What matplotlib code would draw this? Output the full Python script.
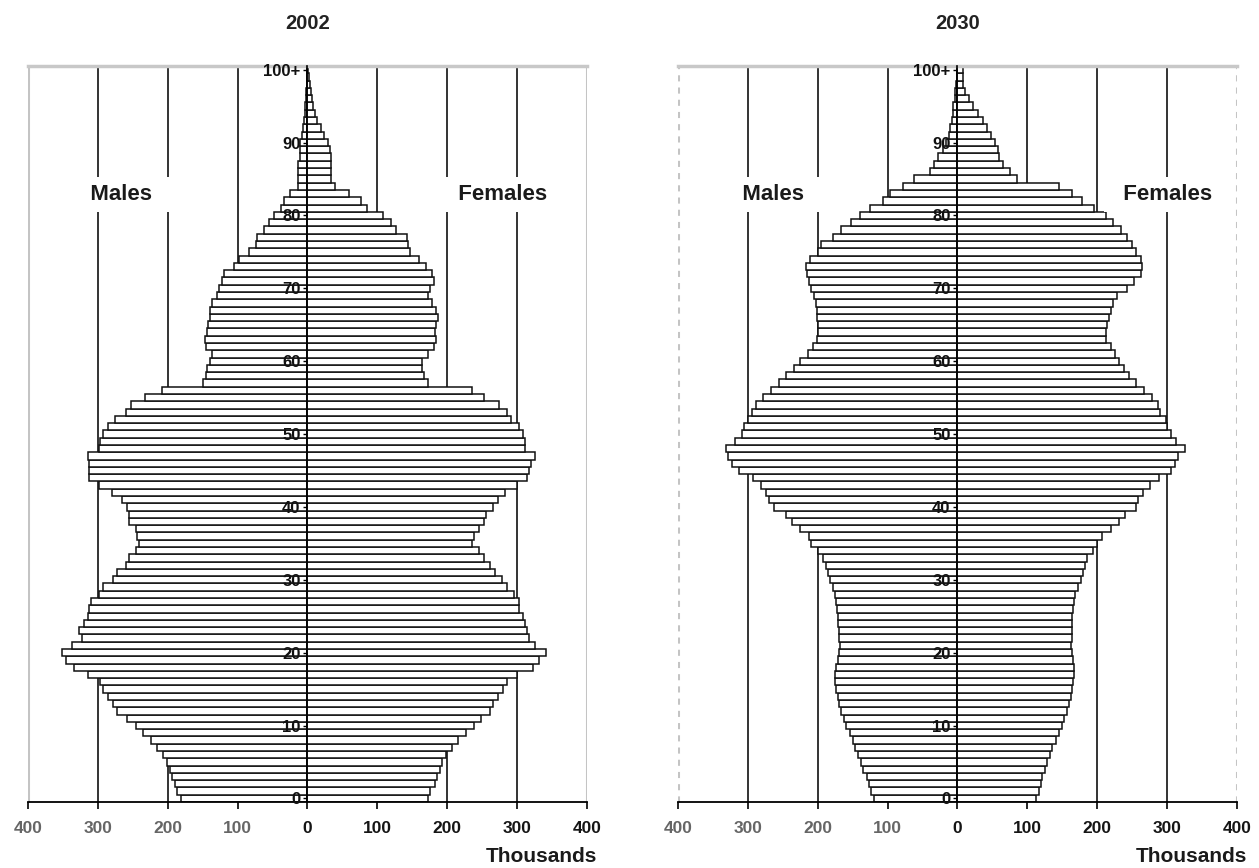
import matplotlib.pyplot as plt

# age groups 0..100+ (one bar per single year of age)
ages = list(range(101))
age_ticks = [0, 10, 20, 30, 40, 50, 60, 70, 80, 90, 100]
age_tick_labels = ['0', '10', '20', '30', '40', '50', '60', '70', '80', '90', '100+']
x_ticks = [-400, -300, -200, -100, 0, 100, 200, 300, 400]
x_tick_labels = ['400', '300', '200', '100', '0', '100', '200', '300', '400']

# thousands of people
males_2002 = [181, 186, 190, 194, 197, 201, 207, 215, 224, 236,
              246, 258, 272, 278, 285, 292, 297, 314, 334, 346,
              351, 337, 323, 327, 320, 314, 312, 310, 299, 293,
              278, 272, 259, 255, 245, 241, 244, 246, 255, 255,
              258, 266, 279, 299, 312, 313, 313, 314, 299, 297,
              293, 286, 275, 259, 252, 232, 208, 150, 145, 144,
              140, 136, 145, 147, 144, 142, 140, 139, 136, 130,
              126, 122, 119, 105, 98, 83, 74, 72, 62, 55,
              48, 38, 34, 25, 13, 13, 13, 13, 11, 11,
              10, 8, 6, 5, 4, 3, 2, 1.5, 1, 0.5, 0.5]
females_2002 = [172, 176, 183, 185, 189, 193, 198, 207, 215, 227,
                238, 249, 261, 266, 272, 280, 286, 300, 323, 331,
                342, 326, 317, 314, 312, 308, 303, 303, 296, 285,
                278, 269, 261, 253, 246, 235, 238, 246, 252, 255,
                266, 272, 283, 300, 314, 317, 320, 325, 312, 312,
                309, 303, 292, 285, 274, 253, 235, 172, 167, 164,
                164, 173, 181, 184, 183, 184, 187, 184, 178, 173,
                176, 181, 178, 170, 160, 147, 144, 142, 127, 119,
                108, 85, 76, 59, 39, 34, 34, 34, 34, 32,
                30, 24, 20, 14, 11, 8, 6, 5, 3, 2, 1]
males_2030 = [120, 124, 127, 130, 135, 138, 142, 146, 150, 154,
              159, 162, 166, 170, 171, 174, 175, 175, 174, 171,
              170, 168, 169, 170, 171, 171, 172, 174, 175, 178,
              182, 185, 188, 192, 199, 209, 213, 225, 237, 245,
              263, 270, 274, 281, 292, 312, 323, 328, 331, 319,
              309, 306, 300, 294, 289, 278, 267, 256, 245, 234,
              225, 214, 207, 201, 200, 200, 201, 201, 203, 205,
              209, 213, 216, 217, 211, 200, 195, 178, 166, 153,
              139, 125, 106, 96, 78, 62, 39, 33, 28, 21,
              17, 12, 10, 8, 7, 6, 4, 3, 2, 1, 1]
females_2030 = [113, 116, 119, 121, 125, 128, 132, 136, 141, 145,
                149, 153, 157, 160, 162, 164, 166, 167, 167, 166,
                164, 163, 164, 164, 164, 164, 165, 167, 168, 173,
                177, 180, 183, 186, 194, 200, 207, 220, 231, 240,
                255, 259, 266, 275, 289, 305, 311, 316, 326, 313,
                305, 300, 298, 290, 287, 278, 267, 256, 246, 238,
                231, 225, 220, 213, 213, 214, 217, 220, 223, 228,
                242, 253, 263, 264, 263, 256, 250, 242, 234, 223,
                213, 196, 178, 164, 146, 85, 75, 65, 60, 58,
                53, 48, 42, 36, 29, 22, 16, 11, 8, 8, 8]

plt.rcParams['font.family'] = ['Liberation Sans', 'DejaVu Sans']

fig = plt.figure(figsize=(12.59, 8.68), dpi=100)
ax_left = fig.add_axes([0.0222, 0.0760, 0.4440, 0.8479])
ax_right = fig.add_axes([0.5385, 0.0760, 0.4440, 0.8479])


def draw_pyramid(ax, year, males, females, males_x, females_x, frame_ls):
    ax.barh(ages, [-m for m in males], height=1.0, color='white',
            edgecolor='#111111', linewidth=1.1, zorder=1)
    ax.barh(ages, females, height=1.0, color='white',
            edgecolor='#111111', linewidth=1.1, zorder=1)

    ax.set_xlim(-400, 400)
    ax.set_ylim(-0.5, 100.5)

    # vertical gridlines, outer ones light grey
    for x in x_ticks:
        if abs(x) == 400:
            ax.axvline(x, color='#c4c4c4', lw=2.2, ls=frame_ls, zorder=0)
        elif x != 0:
            ax.axvline(x, color='#333333', lw=1.4, zorder=0)

    ax.spines['right'].set_visible(False)
    ax.spines['top'].set_color('#c8c8c8')
    ax.spines['top'].set_linewidth(2.5)
    ax.spines['bottom'].set_color('black')
    ax.spines['bottom'].set_linewidth(1.3)
    ax.spines['left'].set_position(('data', 0))
    ax.spines['left'].set_color('black')
    ax.spines['left'].set_linewidth(1.2)
    ax.spines['left'].set_zorder(3)
    ax.yaxis.set_zorder(3)

    ax.set_xticks(x_ticks)
    ax.set_xticklabels(x_tick_labels, fontsize=12.5, fontweight='bold')
    for lab, x in zip(ax.get_xticklabels(), x_ticks):
        lab.set_color('#666666' if x < 0 else '#151515')
    ax.tick_params(axis='x', direction='out', length=5, width=1.2, pad=9)

    ax.set_yticks(age_ticks)
    ax.set_yticklabels(age_tick_labels, fontsize=12, fontweight='bold', color='#111111')
    ax.tick_params(axis='y', direction='out', length=3, width=1, pad=2)

    ax.set_title(year, fontsize=14.5, fontweight='bold', pad=27, color='#222222')

    ax.text(males_x, 82.9, '   Males   ', ha='center', va='center', fontsize=16,
            fontweight='bold', color='#1a1a1a', zorder=4,
            bbox=dict(facecolor='white', edgecolor='none', pad=5))
    ax.text(females_x, 82.9, '  Females  ', ha='center', va='center', fontsize=16,
            fontweight='bold', color='#1a1a1a', zorder=4,
            bbox=dict(facecolor='white', edgecolor='none', pad=5))
    ax.text(0.918, -0.074, 'Thousands', transform=ax.transAxes, ha='center',
            va='center', fontsize=15, fontweight='bold', color='#1a1a1a')


draw_pyramid(ax_left, '2002', males_2002, females_2002, -267, 279, '-')
draw_pyramid(ax_right, '2030', males_2030, females_2030, -264, 301, (0, (2, 2)))

fig.savefig('out.png', dpi=100)
